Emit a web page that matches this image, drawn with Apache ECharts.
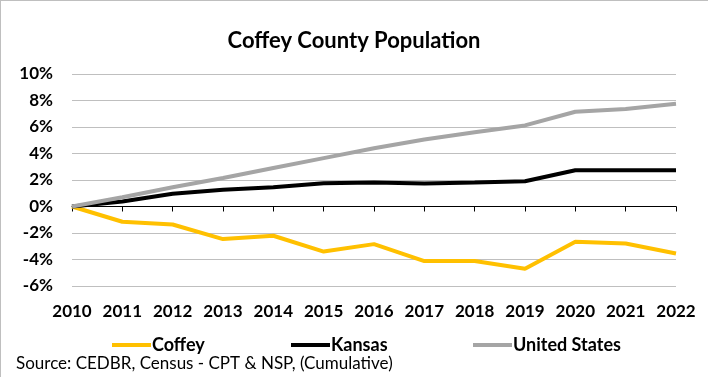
<!DOCTYPE html>
<html><head><meta charset="utf-8">
<script src="https://cdn.jsdelivr.net/npm/echarts@6/dist/echarts.min.js"></script>
<style>html,body{margin:0;padding:0;background:#fff}#c{width:708px;height:377px;}#b{position:absolute;left:0;top:0;width:708px;height:377px;box-sizing:border-box;border-left:1px solid #bfbfbf;border-top:1px solid #bfbfbf;pointer-events:none}</style>
</head><body><div id="c"></div><div id="b"></div>
<script>
const years = ['2010','2011','2012','2013','2014','2015','2016','2017','2018','2019','2020','2021','2022'];
const coffey = [0, -1.15, -1.36, -2.46, -2.21, -3.4, -2.84, -4.12, -4.12, -4.7, -2.66, -2.79, -3.55];
const kansas = [0, 0.38, 0.96, 1.26, 1.46, 1.76, 1.81, 1.74, 1.81, 1.91, 2.74, 2.74, 2.74];
const unitedStates = [0, 0.7, 1.45, 2.15, 2.9, 3.65, 4.4, 5.05, 5.6, 6.12, 7.15, 7.35, 7.75];
const yTicks = {min: -6, max: 10, interval: 2};
const FONT = 'Lato';
const chart = echarts.init(document.getElementById('c'), null, {renderer: 'canvas'});
const legendCommon = {top: 331, itemWidth: 39, itemHeight: 4, icon: 'rect', itemGap: 0,
  textStyle: {fontFamily: FONT, fontWeight: 'bold', fontSize: 18, color: '#000', padding: [0,0,0,-4]}};
chart.setOption({
  animation: false,
  title: {text: 'Coffey County Population', left: 'center', top: 25,
    textStyle: {fontFamily: FONT, fontWeight: 'bold', fontSize: 22, color: '#000'}},
  grid: {left: 72, right: 32, top: 74, bottom: 91, containLabel: false, outerBoundsMode: 'none'},
  legend: [
    Object.assign({data: ['Coffey'], left: 107}, legendCommon),
    Object.assign({data: ['Kansas'], left: 286}, legendCommon),
    Object.assign({data: ['United States'], left: 468}, legendCommon)
  ],
  graphic: [{type: 'text', left: 16, top: 355,
    style: {text: 'Source: CEDBR, Census - CPT & NSP, (Cumulative)', fontFamily: FONT, fontSize: 17, fill: '#000'}}],
  xAxis: [
    {type: 'category', data: years, boundaryGap: false,
      axisLine: {onZero: true, lineStyle: {color: '#000', width: 1}},
      axisTick: {show: true, length: 5, interval: 0, lineStyle: {color: '#000'}},
      axisLabel: {show: false}},
    {type: 'category', data: years, boundaryGap: false, position: 'bottom',
      axisLine: {show: false, onZero: false}, axisTick: {show: false},
      axisLabel: {interval: 0, hideOverlap: false, margin: 17, fontFamily: FONT, fontWeight: 'bold', fontSize: 17, color: '#000'}}
  ],
  yAxis: {type: 'value', min: yTicks.min, max: yTicks.max, interval: yTicks.interval,
    axisLine: {show: false}, axisTick: {show: false},
    splitLine: {lineStyle: {color: '#bfbfbf', width: 1}},
    axisLabel: {formatter: v => v + '%', margin: 19, fontFamily: FONT, fontWeight: 'bold', fontSize: 17, color: '#000'}},
  series: [
    {name: 'Coffey', type: 'line', data: coffey, showSymbol: false, symbol: 'none', lineStyle: {color: '#FFC000', width: 4}, itemStyle: {color: '#FFC000'}},
    {name: 'Kansas', type: 'line', data: kansas, showSymbol: false, symbol: 'none', lineStyle: {color: '#000000', width: 4}, itemStyle: {color: '#000000'}},
    {name: 'United States', type: 'line', data: unitedStates, showSymbol: false, symbol: 'none', lineStyle: {color: '#A5A5A5', width: 4}, itemStyle: {color: '#A5A5A5'}}
  ]
});
</script></body></html>
